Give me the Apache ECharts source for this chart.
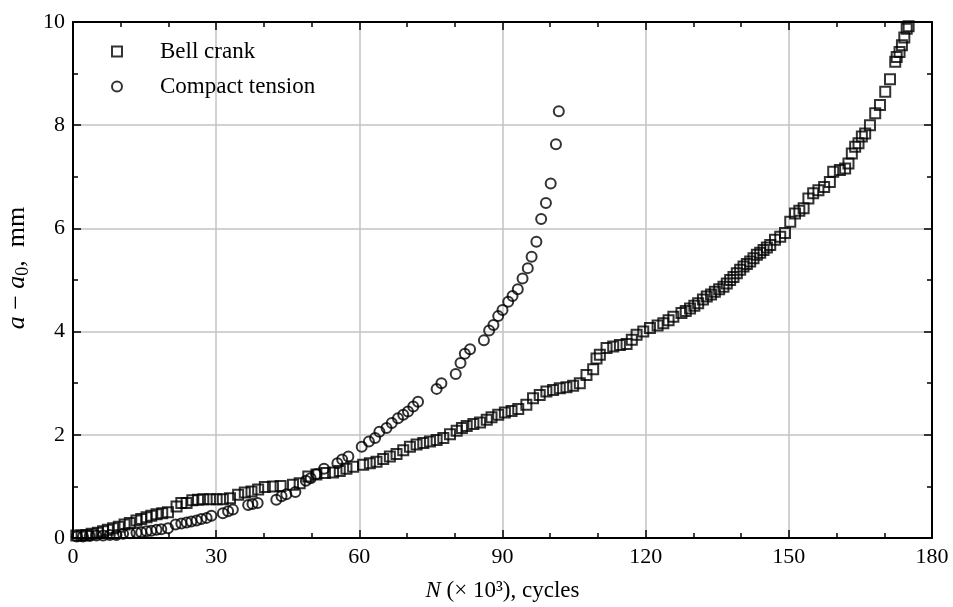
<!DOCTYPE html>
<html>
<head>
<meta charset="utf-8">
<script src="https://cdn.jsdelivr.net/npm/echarts@6/dist/echarts.min.js"></script>
<style>
  html, body { margin: 0; padding: 0; background: #fff; }
  #chart { width: 953px; height: 607px; }
</style>
</head>
<body>
<div id="chart"></div>
<script>
// Bell crank specimen (squares)
const bellX = [0.7, 1.8, 2.8, 3.9, 5.2, 6.3, 7.3, 8.4, 9.6, 10.8, 11.9, 13.3, 14.3, 15.4, 16.4, 17.5, 18.7, 19.9,
  21.7, 22.7, 23.8, 25.0, 26.2, 27.3, 28.7, 30.1, 31.4, 32.9, 34.6, 36.0, 37.4, 38.8, 40.2, 41.9, 43.5, 46.1, 47.5,
  49.3, 51.0, 52.8, 54.5, 55.9, 57.3, 58.7, 60.8, 62.2, 63.6, 65.0, 66.4, 67.8, 69.2, 70.6, 72.0, 73.4, 74.8, 76.2,
  77.6, 79.0, 80.4, 81.5, 82.5, 83.9, 85.3, 86.7, 87.7, 89.1, 90.5, 91.9, 93.3, 95.0, 96.4, 97.8, 99.2, 100.6, 102.0,
  103.4, 104.8, 106.2, 107.6, 109.0, 109.7, 110.4, 111.8, 113.2, 114.6, 116.0, 117.1, 118.1, 119.5, 120.9, 122.5,
  123.7, 124.8, 125.8, 127.5, 128.4, 129.3, 130.2, 131.0, 132.0, 132.8, 133.7, 134.5, 135.4, 136.3, 137.0, 137.7,
  138.4, 139.1, 139.8, 140.5, 141.2, 141.9, 142.6, 143.3, 144.0, 144.7, 145.4, 146.1, 147.1, 148.2, 149.2, 150.3,
  151.3, 152.2, 153.1, 154.1, 155.1, 156.2, 157.4, 158.6, 159.3, 160.7, 161.8, 162.5, 163.2, 163.9, 164.6, 165.3,
  166.0, 167.0, 168.1, 169.1, 170.2, 171.2, 172.3, 172.6, 173.2, 173.7, 174.2, 174.7, 175.1];
const bellY = [0.05, 0.05, 0.06, 0.08, 0.10, 0.13, 0.16, 0.19, 0.22, 0.26, 0.29, 0.34, 0.37, 0.40, 0.43, 0.46, 0.48, 0.50,
  0.61, 0.68, 0.68, 0.73, 0.74, 0.75, 0.75, 0.75, 0.75, 0.77, 0.84, 0.88, 0.90, 0.94, 0.99, 1.00, 1.01, 1.03, 1.06,
  1.19, 1.23, 1.26, 1.27, 1.30, 1.34, 1.38, 1.42, 1.45, 1.48, 1.53, 1.58, 1.63, 1.70, 1.77, 1.81, 1.84, 1.87, 1.90,
  1.94, 2.01, 2.08, 2.13, 2.17, 2.21, 2.24, 2.29, 2.34, 2.39, 2.43, 2.46, 2.50, 2.58, 2.71, 2.77, 2.84, 2.87, 2.90,
  2.92, 2.95, 3.00, 3.16, 3.27, 3.48, 3.55, 3.68, 3.71, 3.74, 3.76, 3.84, 3.94, 4.00, 4.07, 4.12,
  4.16, 4.22, 4.29, 4.36, 4.40, 4.45, 4.50, 4.55, 4.62, 4.68, 4.72, 4.77, 4.82, 4.87, 4.93, 5.00,
  5.06, 5.13, 5.20, 5.26, 5.31, 5.36, 5.42, 5.49, 5.53, 5.58, 5.63, 5.68, 5.78, 5.84, 5.91, 6.13,
  6.29, 6.34, 6.39, 6.58, 6.68, 6.74, 6.80, 6.90, 7.10, 7.13, 7.16, 7.26, 7.45, 7.58, 7.65, 7.78,
  7.84, 8.00, 8.23, 8.39, 8.65, 8.89, 9.23, 9.32, 9.42, 9.55, 9.70, 9.87, 9.92];

// Compact tension specimen (circles)
const ctX = [0.8, 2.1, 3.5, 4.9, 6.3, 7.7, 9.1, 10.5, 11.9, 13.3, 14.3, 15.4, 16.4, 17.5, 18.5, 19.9, 21.5, 22.7,
  23.8, 24.8, 25.9, 26.9, 28.0, 29.0, 31.4, 32.5, 33.5, 36.7, 37.6, 38.7, 42.6, 43.7, 44.7, 46.6, 48.8, 49.8, 51.0,
  52.6, 55.4, 56.4, 57.7, 60.5, 62.0, 63.3, 64.2, 65.7, 66.8, 68.1, 69.2, 70.2, 71.3, 72.3, 76.2, 77.2, 80.2, 81.2,
  82.1, 83.2, 86.1, 87.2, 88.1, 89.1, 90.0, 91.2, 92.1, 93.2, 94.2, 95.3, 96.1, 97.1, 98.1, 99.1, 100.1, 101.2, 101.8];
const ctY = [0.03, 0.03, 0.04, 0.05, 0.05, 0.06, 0.06, 0.08, 0.09, 0.10, 0.11, 0.13, 0.14, 0.16, 0.17, 0.19, 0.26, 0.28,
  0.30, 0.32, 0.34, 0.37, 0.39, 0.43, 0.48, 0.52, 0.55, 0.64, 0.66, 0.68, 0.74, 0.81, 0.85, 0.89, 1.11, 1.16, 1.24,
  1.34, 1.45, 1.52, 1.58, 1.77, 1.87, 1.94, 2.06, 2.13, 2.23, 2.32, 2.39, 2.45, 2.55, 2.64, 2.89, 3.00, 3.18, 3.39,
  3.57, 3.66, 3.83, 4.02, 4.13, 4.30, 4.42, 4.58, 4.69, 4.82, 5.03, 5.23, 5.45, 5.74, 6.18, 6.49, 6.87, 7.63, 8.27];

const FONT = '"Liberation Serif", "DejaVu Serif", serif';

const chart = echarts.init(document.getElementById('chart'));

const tickStyle = { color: '#000', width: 1.5 };

function xAxisDef(pos, showLabels) {
    return {
        type: 'value', position: pos, min: 0, max: 180, interval: 30,
        axisLine: { show: true, onZero: false, lineStyle: { color: '#000', width: 2 } },
        axisTick: { show: true, inside: true, length: 8, lineStyle: tickStyle },
        minorTick: { show: true, splitNumber: 3, length: 5, lineStyle: tickStyle },
        splitLine: { show: showLabels, lineStyle: { color: '#c3c3c3', width: 1.5 } },
        axisLabel: { show: showLabels, color: '#000', fontSize: 22, fontFamily: FONT, margin: 8 }
    };
}

function yAxisDef(pos, showLabels) {
    return {
        type: 'value', position: pos, min: 0, max: 10, interval: 2,
        axisLine: { show: true, onZero: false, lineStyle: { color: '#000', width: 2 } },
        axisTick: { show: true, inside: true, length: 8, lineStyle: tickStyle },
        minorTick: { show: true, splitNumber: 2, length: 5, lineStyle: tickStyle },
        splitLine: { show: showLabels, lineStyle: { color: '#c3c3c3', width: 1.5 } },
        axisLabel: { show: showLabels, color: '#000', fontSize: 22, fontFamily: FONT, margin: 8 }
    };
}

const xBottom = xAxisDef('bottom', true);
xBottom.name = '{i|N} (× 10³), cycles';
xBottom.nameLocation = 'middle';
xBottom.nameGap = 41;
xBottom.nameTextStyle = {
    color: '#000', fontSize: 23, fontFamily: FONT,
    rich: { i: { fontStyle: 'italic', fontSize: 23, fontFamily: FONT, color: '#000' } }
};

const yLeft = yAxisDef('left', true);
yLeft.name = '{i|a}{t| − }{i|a}{s|0}{t|,  mm}';
yLeft.nameLocation = 'middle';
yLeft.nameRotate = 90;
yLeft.nameGap = 32;
yLeft.nameTextStyle = {
    color: '#000', fontSize: 26, fontFamily: FONT, padding: [0, 0, 0, 24],
    rich: {
        i: { fontStyle: 'italic', fontSize: 26, lineHeight: 30, fontFamily: FONT, color: '#000' },
        t: { fontSize: 26, lineHeight: 30, fontFamily: FONT, color: '#000' },
        s: { fontSize: 18, lineHeight: 18, verticalAlign: 'bottom', fontFamily: FONT, color: '#000' }
    }
};

const markStyle = { color: 'rgba(255,255,255,0)', borderColor: '#000', borderWidth: 2 };

chart.setOption({
    backgroundColor: '#fff',
    animation: false,
    grid: { left: 73, right: 21, top: 22, bottom: 69, containLabel: false, outerBoundsMode: 'none' },
    legend: {
        orient: 'vertical', left: 106, top: 35, itemGap: 12,
        itemWidth: 10, itemHeight: 10,
        textStyle: { color: '#000', fontSize: 23, fontFamily: FONT, padding: [0, 0, 0, 33] },
        data: ['Bell crank', 'Compact tension']
    },
    xAxis: [xBottom, xAxisDef('top', false)],
    yAxis: [yLeft, yAxisDef('right', false)],
    series: [
        {
            name: 'Bell crank', type: 'scatter', symbol: 'rect', symbolSize: 10,
            itemStyle: markStyle,
            data: bellX.map((x, i) => [x, bellY[i]])
        },
        {
            name: 'Compact tension', type: 'scatter', symbol: 'circle', symbolSize: 10,
            itemStyle: markStyle,
            data: ctX.map((x, i) => [x, ctY[i]])
        }
    ]
});
</script>
</body>
</html>
